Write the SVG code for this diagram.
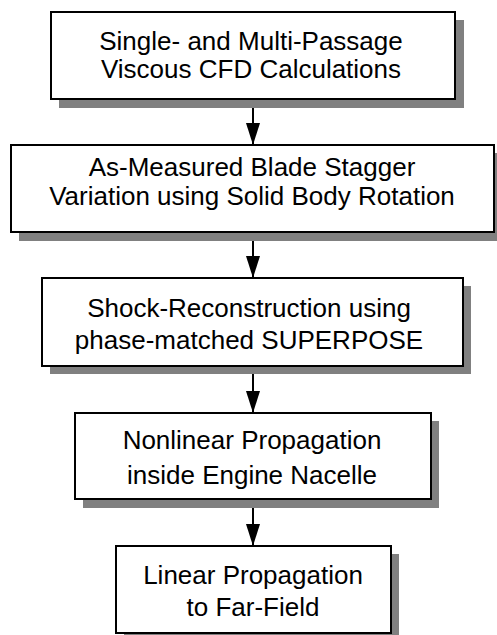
<svg xmlns="http://www.w3.org/2000/svg" width="497" height="635" viewBox="0 0 497 635">
<defs>
<style>
.shadow{fill:#808080;stroke:none}
.box{fill:#ffffff;stroke:#000000;stroke-width:2}
.lbl{font-family:"Liberation Sans",Arial,sans-serif;font-size:26px;fill:#000000;text-anchor:middle}
.conn{stroke:#000000;stroke-width:2;fill:none}
</style>
<marker id="ah" markerUnits="userSpaceOnUse" markerWidth="22" markerHeight="14" refX="22" refY="7" orient="auto" viewBox="0 0 22 14">
<path d="M0,0 L22,7 L0,14 Z" fill="#000000"/>
</marker>
</defs>
<rect width="497" height="635" fill="#ffffff"/>
<g id="connectors">
<line class="conn" x1="253" y1="100" x2="253" y2="145" marker-end="url(#ah)"/>
<line class="conn" x1="253" y1="233" x2="253" y2="278" marker-end="url(#ah)"/>
<line class="conn" x1="253" y1="367" x2="253" y2="413" marker-end="url(#ah)"/>
<line class="conn" x1="253" y1="500" x2="253" y2="546" marker-end="url(#ah)"/>
</g>
<g id="node1">
<rect class="shadow" x="59" y="20" width="405" height="88"/>
<rect class="box" x="51" y="12" width="404" height="87"/>
<text class="lbl" x="251" y="50">Single- and Multi-Passage</text>
<text class="lbl" x="251" y="78">Viscous CFD Calculations</text>
</g>
<g id="node2">
<rect class="shadow" x="19" y="153" width="483" height="88"/>
<rect class="box" x="11" y="145" width="483" height="87"/>
<text class="lbl" x="252" y="176">As-Measured Blade Stagger</text>
<text class="lbl" x="252" y="205">Variation using Solid Body Rotation</text>
</g>
<g id="node3">
<rect class="shadow" x="50" y="286" width="421" height="88"/>
<rect class="box" x="42" y="278" width="421" height="88"/>
<text class="lbl" x="249" y="317">Shock-Reconstruction using</text>
<text class="lbl" x="249" y="349">phase-matched SUPERPOSE</text>
</g>
<g id="node4">
<rect class="shadow" x="83" y="421" width="356" height="87"/>
<rect class="box" x="75" y="413" width="356" height="86"/>
<text class="lbl" x="252" y="449">Nonlinear Propagation</text>
<text class="lbl" x="252" y="484">inside Engine Nacelle</text>
</g>
<g id="node5">
<rect class="shadow" x="124" y="554" width="275" height="88"/>
<rect class="box" x="116" y="546" width="275" height="87"/>
<text class="lbl" x="253" y="584">Linear Propagation</text>
<text class="lbl" x="253" y="616">to Far-Field</text>
</g>
</svg>
